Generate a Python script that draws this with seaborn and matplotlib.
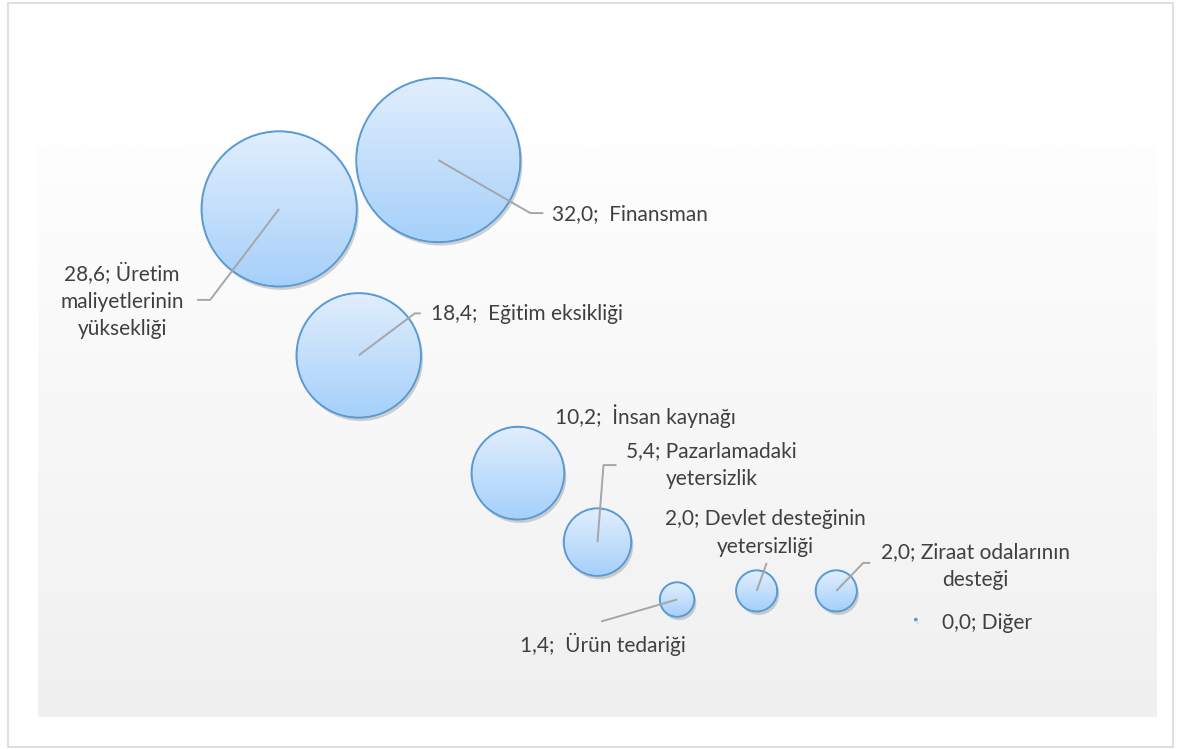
import numpy as np
import pandas as pd
import matplotlib
matplotlib.use("Agg")
import matplotlib.pyplot as plt
import matplotlib.patheffects as pe
from matplotlib.patches import Ellipse, Rectangle
from matplotlib.colors import LinearSegmentedColormap
import seaborn as sns

# ---- data ----
positions = [1, 2, 3, 4, 5, 6, 7, 8, 9]
values = [28.6, 18.4, 32.0, 10.2, 5.4, 1.4, 2.0, 2.0, 0.0]
labels = [
    "28,6; Üretim\nmaliyetlerinin\nyüksekliği",
    "18,4;  Eğitim eksikliği",
    "32,0;  Finansman",
    "10,2;  İnsan kaynağı",
    "5,4; Pazarlamadaki\nyetersizlik",
    "1,4;  Ürün tedariği",
    "2,0; Devlet desteğinin\nyetersizliği",
    "2,0; Ziraat odalarının\ndesteği",
    "0,0; Diğer",
]

df = pd.DataFrame({"x": positions, "y": values, "size": values, "label": labels})

sns.set_theme(style="white")
plt.rcParams["font.family"] = ["Lato", "DejaVu Sans"]

W, H, DPI = 1183, 749, 100
fig = plt.figure(figsize=(W / DPI, H / DPI), dpi=DPI)
fig.patch.set_facecolor("white")

# outer chart border
fig.patches.append(Rectangle((7.5 / W, 2.5 / H), 1165 / W, 744 / H, transform=fig.transFigure,
                             fill=False, edgecolor="#d9d9d9", linewidth=1.2))

# plot area
left, right, top, bottom = 38, 1157, 145, 717
ax = fig.add_axes([left / W, (H - bottom) / H, (right - left) / W, (bottom - top) / H])
xlim = (-2.03, 12.03)
ylim = (-6.78, 33.05)
ax.set_xlim(*xlim)
ax.set_ylim(*ylim)

# background gradient
bg = LinearSegmentedColormap.from_list("bg", ["#f0f0f0", "#fefefe"])
ax.imshow(np.linspace(0, 1, 256).reshape(-1, 1), cmap=bg, origin="lower", aspect="auto",
          extent=(*xlim, *ylim), zorder=0)

SMAX = 13950
sns.scatterplot(data=df, x="x", y="y", size="size", sizes=(1.5, SMAX), size_norm=(0, 32),
                color="#bcdcfb", edgecolor="#5b9bd5", linewidth=1.5, legend=False,
                ax=ax, zorder=3, clip_on=False)
coll = ax.collections[-1]
coll.set_path_effects([pe.SimplePatchShadow(offset=(1.5, -2.5), shadow_rgbFace="#7f7f7f", alpha=0.35),
                       pe.Normal()])

ax.set_xlim(*xlim)
ax.set_ylim(*ylim)
for s in ax.spines.values():
    s.set_visible(False)
ax.set_xticks([])
ax.set_yticks([])
ax.set_xlabel("")
ax.set_ylabel("")

# gradient fill inside bubbles
ppx = ((right - left)) / (xlim[1] - xlim[0])
ppy = ((bottom - top)) / (ylim[1] - ylim[0])
grad = LinearSegmentedColormap.from_list("bub", ["#a6d0fa", "#e1eefd"])
sizes = coll.get_sizes()
for (x, y), s in zip(coll.get_offsets(), sizes):
    r = np.sqrt(s) / 2 * DPI / 72 - 1.1
    if r < 3:
        continue
    wx, hy = r / ppx, r / ppy
    im = ax.imshow(np.linspace(0, 1, 256).reshape(-1, 1), cmap=grad, origin="lower", aspect="auto",
                   extent=(x - wx, x + wx, y - hy, y + hy), zorder=3.5)
    el = Ellipse((x, y), 2 * wx, 2 * hy, transform=ax.transData)
    im.set_clip_path(el)
    im.set_clip_box(fig.bbox)
ax.set_xlim(*xlim)
ax.set_ylim(*ylim)

# labels: pixel offsets (dx, dy down), alignment, leader polyline (pixel offsets, y down)
layout = [
    ((-157, 92), "center", [(0, 0), (-69, 91), (-82, 91)]),
    ((72, -41), "left", [(0, 0), (56, -42), (62, -42)]),
    ((114, 54), "left", [(0, 0), (92, 53), (105, 53)]),
    ((37, -57), "left", None),
    ((114, -77), "center", [(0, 0), (6, -77), (19, -77)]),
    ((-74, 45), "center", [(0, 0), (-76, 22)]),
    ((9, -58), "center", [(0, 0), (10, -28)]),
    ((139, -25), "center", [(0, 0), (27, -28), (34, -28)]),
    ((26, 3), "left", None),
]
for (x, y, lab), (off, ha, leader) in zip(df[["x", "y", "label"]].itertuples(index=False), layout):
    ax.annotate(lab, xy=(x, y), xytext=(off[0], -off[1]), textcoords="offset pixels",
                ha=ha, va="center", fontsize=15, color="#404040", linespacing=1.45,
                zorder=6, annotation_clip=False)
    if leader:
        p = ax.transData.transform((x, y))
        pts = np.array([(p[0] + dx, p[1] - dy) for dx, dy in leader])
        d = ax.transData.inverted().transform(pts)
        ax.plot(d[:, 0], d[:, 1], color="#a6a6a6", linewidth=1.4, zorder=5, clip_on=False,
                solid_capstyle="butt")

fig.savefig("out.png", dpi=DPI)
